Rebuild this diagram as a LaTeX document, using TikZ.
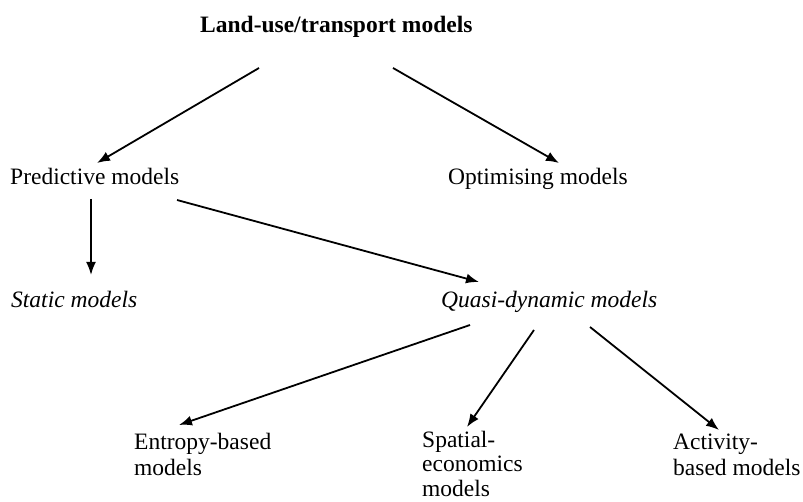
\documentclass[tikz,border=0pt]{standalone}
\usepackage{fontspec}
\setmainfont{Liberation Serif}
\usetikzlibrary{arrows.meta}
\begin{document}
\begin{tikzpicture}[x=1pt,y=-1pt,
  lbl/.style={anchor=base west,inner sep=0pt,font=\fontsize{23.5}{26.5}\selectfont},
  conn/.style={line width=1.8pt,-{Latex[length=13pt,width=10pt]}}]
\useasboundingbox (0,0) rectangle (803,502);
\node[lbl,font=\fontsize{23.5}{27}\selectfont\bfseries] (title) at (200,32.5) {Land-use/transport models};
\node[lbl] (pred) at (10,185) {Predictive models};
\node[lbl] (opt) at (448,185) {Optimising models};
\node[lbl,font=\fontsize{23.5}{27}\selectfont\itshape] (stat) at (11,308) {Static models};
\node[lbl,font=\fontsize{23.5}{27}\selectfont\itshape] (quasi) at (441,308) {Quasi-dynamic models};
\node[lbl] (ent) at (134,449) {\vtop{\hbox{Entropy-based}\hbox{models}}};
\node[lbl,font=\fontsize{23.5}{24.5}\selectfont] (spat) at (422,447) {\vtop{\hbox{Spatial-}\hbox{economics}\hbox{models}}};
\node[lbl] (act) at (673,449) {\vtop{\hbox{Activity-}\hbox{based models}}};
% connector ends
\coordinate (t1) at (259,68);  \coordinate (p1) at (97,163);
\coordinate (t2) at (393,68);  \coordinate (o1) at (559,163);
\coordinate (p2) at (91,199);  \coordinate (s1) at (91,275);
\coordinate (p3) at (177,200); \coordinate (q1) at (479,282);
\coordinate (q2) at (470,325); \coordinate (e1) at (179,425);
\coordinate (q3) at (534,330); \coordinate (sp1) at (467,427);
\coordinate (q4) at (590,327); \coordinate (a1) at (719,430);
\draw[conn] (t1) -- (p1);
\draw[conn] (t2) -- (o1);
\draw[conn] (p2) -- (s1);
\draw[conn] (p3) -- (q1);
\draw[conn] (q2) -- (e1);
\draw[conn] (q3) -- (sp1);
\draw[conn] (q4) -- (a1);
\end{tikzpicture}
\end{document}
